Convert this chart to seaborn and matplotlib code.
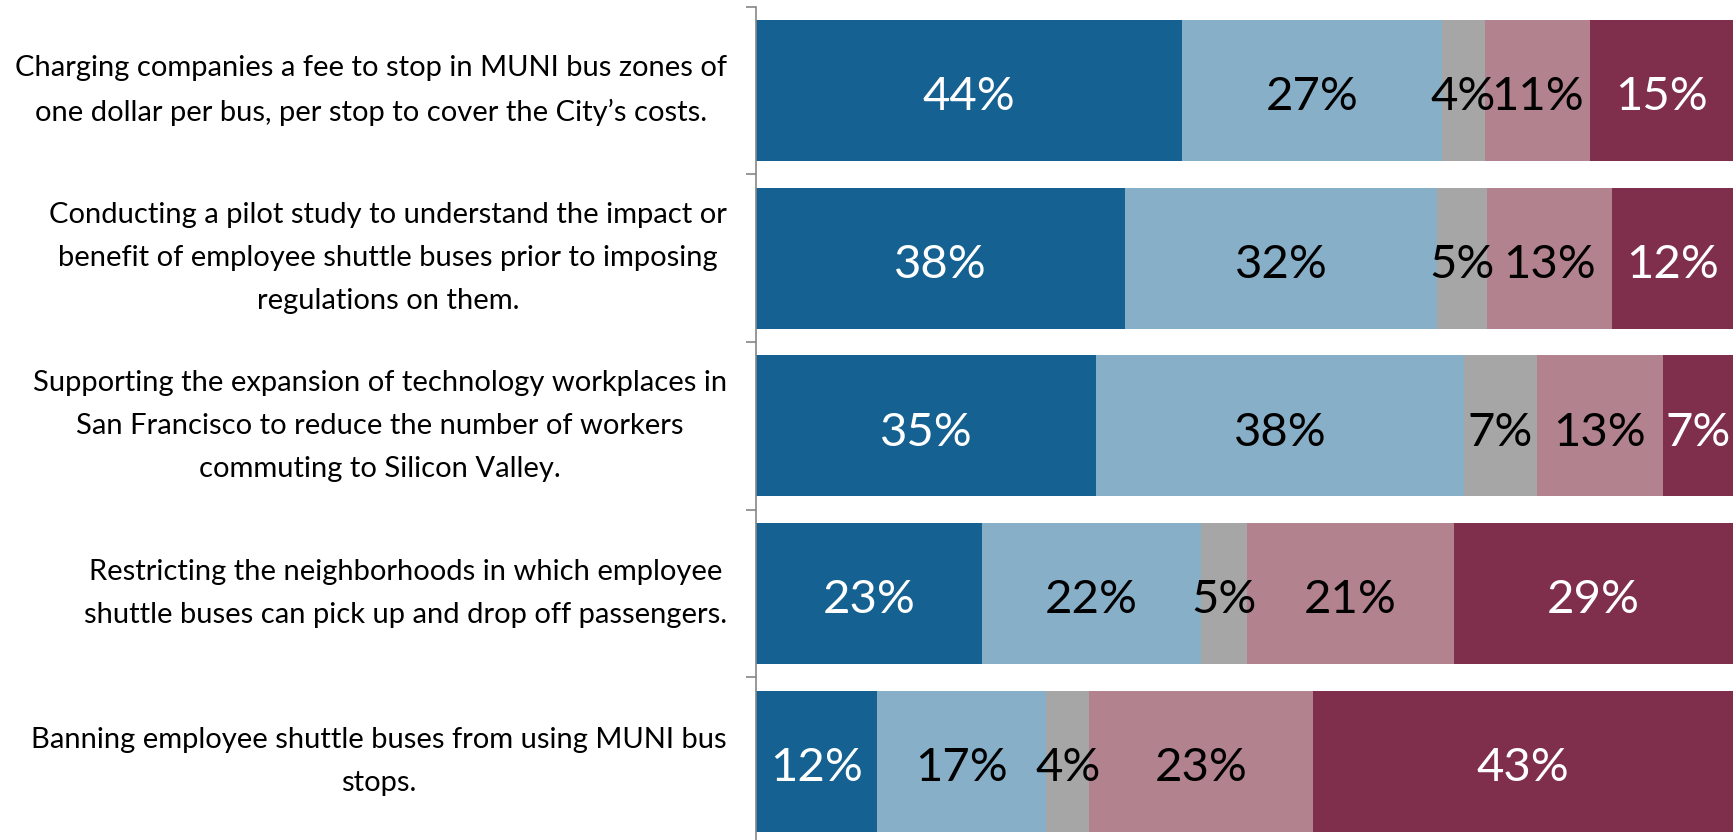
import matplotlib.pyplot as plt
import pandas as pd
import numpy as np
import seaborn as sns

# Survey statements (top to bottom) and response shares (%)
statements = [
    "Charging companies a fee to stop in MUNI bus zones of\none dollar per bus, per stop to cover the City\u2019s costs.",
    "Conducting a pilot study to understand the impact or\nbenefit of employee shuttle buses prior to imposing\nregulations on them.",
    "Supporting the expansion of technology workplaces in\nSan Francisco to reduce the number of workers\ncommuting to Silicon Valley.",
    "Restricting the neighborhoods in which employee\nshuttle buses can pick up and drop off passengers.",
    "Banning employee shuttle buses from using MUNI bus\nstops.",
]
responses = ["Strongly support", "Somewhat support", "Don't know", "Somewhat oppose", "Strongly oppose"]
strongly_support = [43.6, 37.8, 34.8, 23.1, 12.4]
somewhat_support = [26.6, 31.9, 37.7, 22.4, 17.3]
dont_know = [4.4, 5.1, 7.4, 4.8, 4.4]
somewhat_oppose = [10.8, 12.8, 12.9, 21.1, 22.9]
strongly_oppose = [14.6, 12.4, 7.2, 28.6, 43.0]

colors = ["#146192", "#88AFC8", "#A6A6A6", "#B2828F", "#7F2F4B"]
text_colors = ["white", "black", "black", "black", "white"]

df = pd.DataFrame({
    "statement": statements,
    responses[0]: strongly_support,
    responses[1]: somewhat_support,
    responses[2]: dont_know,
    responses[3]: somewhat_oppose,
    responses[4]: strongly_oppose,
})
cum = df[responses].cumsum(axis=1)

sns.set_style("white")
plt.rcParams['font.family'] = ['Lato', 'DejaVu Sans']

fig = plt.figure(figsize=(17.36, 8.4), dpi=100)
ax = fig.add_axes([756 / 1736, -5 / 840, 977 / 1736, 838.4 / 840])

# stacked bars: draw cumulative totals from the longest down so each segment shows
for i in range(len(responses) - 1, -1, -1):
    sns.barplot(x=cum[responses[i]], y=df["statement"], orient="h", color=colors[i],
                saturation=1, width=0.84, linewidth=0, ax=ax)

# percentage labels in the middle of each segment
for r in range(len(df)):
    left = 0
    for i, col in enumerate(responses):
        v = df.loc[r, col]
        ax.text(left + v / 2, r + 0.04, f"{v:.0f}%", ha="center", va="center",
                fontsize=34, color=text_colors[i])
        left += v

ax.set_xlim(0, 100)
ax.set_ylim(len(df) - 0.5, -0.5)
ax.set_xlabel("")
ax.set_ylabel("")
ax.set_xticks([])

for s in ["top", "right", "bottom"]:
    ax.spines[s].set_visible(False)
ax.spines["left"].set_color("#868686")
ax.spines["left"].set_linewidth(1.2)

ax.set_yticks(np.arange(-0.5, len(df), 1.0), minor=True)
ax.tick_params(axis="y", which="minor", left=True, length=7, width=1.2, color="#868686")
ax.tick_params(axis="y", which="major", length=0, pad=21)
for lbl in ax.get_yticklabels():
    lbl.set_fontsize(21)
    lbl.set_multialignment("center")
    lbl.set_verticalalignment("center")
    lbl.set_linespacing(1.8)
    lbl.set_color("black")

fig.savefig("out.png", dpi=100)
